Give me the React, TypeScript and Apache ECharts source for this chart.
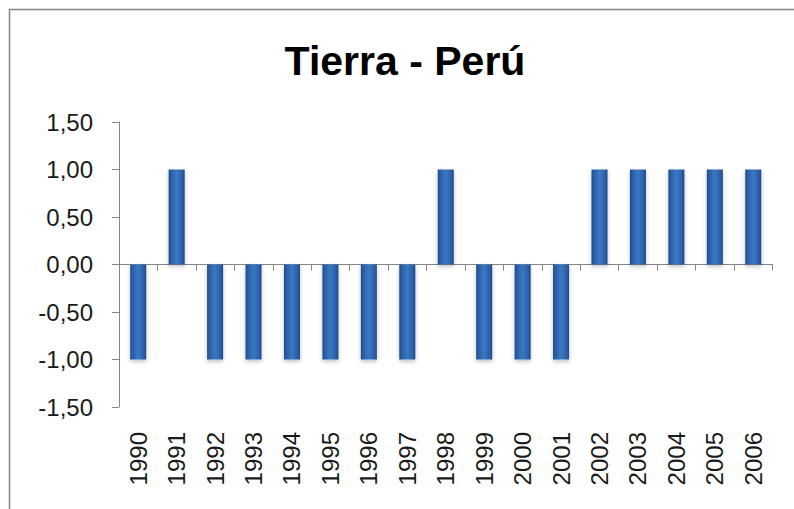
import React, { useEffect, useRef } from "react";
import * as echarts from "echarts";

const titleText = "Tierra - Perú";
const years = ["1990", "1991", "1992", "1993", "1994", "1995", "1996", "1997", "1998", "1999", "2000", "2001", "2002", "2003", "2004", "2005", "2006"];
const values = [-1, 1, -1, -1, -1, -1, -1, -1, 1, -1, -1, -1, 1, 1, 1, 1, 1];
const yMin = -1.5;
const yMax = 1.5;
const yStep = 0.5;

const FONT = "'Liberation Sans', Arial, sans-serif";

export default function App() {
  const ref = useRef<HTMLDivElement>(null);
  useEffect(() => {
    if (!ref.current) return;
    const chart = echarts.init(ref.current, null, { renderer: "svg" });
    const barColor = new echarts.graphic.LinearGradient(0, 0, 1, 0, [
      { offset: 0, color: "#1d4884" },
      { offset: 0.15, color: "#2b5fa6" },
      { offset: 0.5, color: "#3b78c6" },
      { offset: 0.85, color: "#2b5fa6" },
      { offset: 1, color: "#1d4884" },
    ]);
    chart.setOption({
      animation: false,
      backgroundColor: "#ffffff",
      graphic: [
        {
          type: "rect",
          shape: { x: 9.5, y: 9.5, width: 1000, height: 1000 },
          style: { fill: "none", stroke: "#858585", lineWidth: 1.5 },
          z: 0,
        },
        {
          type: "text",
          x: 405,
          y: 61,
          style: {
            text: titleText,
            font: `bold 41px ${FONT}`,
            fill: "#000000",
            textAlign: "center",
            textVerticalAlign: "middle",
          },
        },
      ],
      grid: { left: 119, right: 21.5, top: 122, bottom: 102, containLabel: false },
      xAxis: [
        {
          type: "category",
          data: years,
          position: "bottom",
          axisLine: { show: true, onZero: true, lineStyle: { color: "#868686", width: 1 } },
          axisTick: { show: true, length: 6, lineStyle: { color: "#868686" } },
          axisLabel: { show: false },
          splitLine: { show: false },
        },
        {
          type: "category",
          data: years,
          position: "bottom",
          axisLine: { show: false, onZero: false },
          axisTick: { show: false },
          axisLabel: {
            show: true,
            rotate: 90,
            margin: 25,
            fontFamily: FONT,
            fontSize: 24,
            color: "#1a1a1a",
            interval: 0,
          },
          splitLine: { show: false },
        },
      ],
      yAxis: {
        type: "value",
        min: yMin,
        max: yMax,
        interval: yStep,
        axisLine: { show: true, lineStyle: { color: "#868686", width: 1 } },
        axisTick: { show: true, length: 7, lineStyle: { color: "#868686" } },
        splitLine: { show: false },
        axisLabel: {
          margin: 26,
          fontFamily: FONT,
          fontSize: 24,
          color: "#1a1a1a",
          formatter: (v: number) => v.toFixed(2).replace(".", ","),
        },
      },
      series: [
        {
          type: "bar",
          xAxisIndex: 0,
          data: values,
          barWidth: 16,
          itemStyle: {
            color: barColor,
            shadowColor: "rgba(0,0,0,0.25)",
            shadowBlur: 4,
            shadowOffsetY: 2,
          },
        },
      ],
    });
    return () => chart.dispose();
  }, []);
  return (
    <div
      ref={ref}
      style={{ position: "fixed", left: 0, top: 0, width: 794, height: 509 }}
    />
  );
}
